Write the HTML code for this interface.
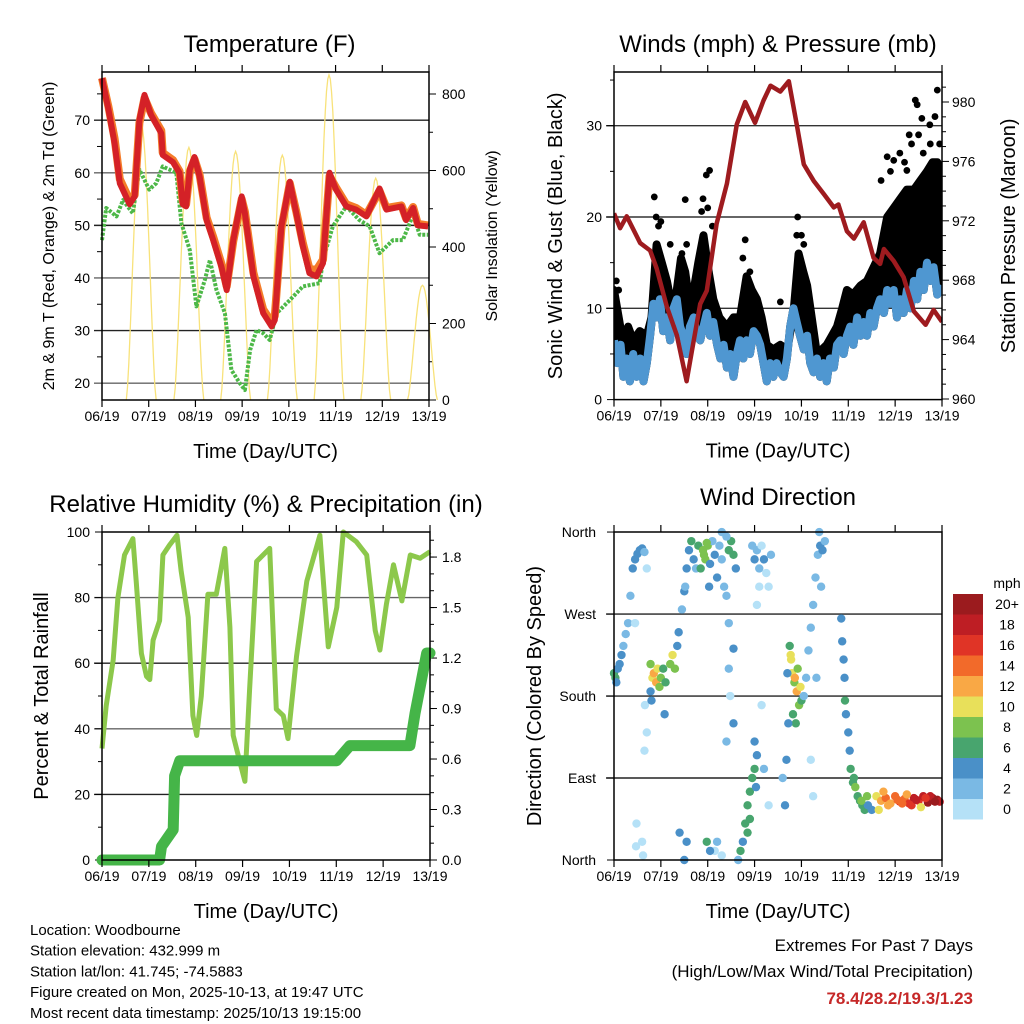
<!DOCTYPE html>
<html><head><meta charset="utf-8"><style>
html,body{margin:0;padding:0;background:#fff;}
svg{display:block;font-family:"Liberation Sans",Arial,sans-serif;}
</style></head><body>
<svg id="c" width="1024" height="1024" viewBox="0 0 1024 1024" xmlns="http://www.w3.org/2000/svg"></svg>
<script>
// ---------- DATA ----------
const dayLabels = ["06/19","07/19","08/19","09/19","10/19","11/19","12/19","13/19"];
const tempT = [0,0.14,0.27,0.38,0.59,0.7,0.8,0.91,1.05,1.27,1.3,1.52,1.66,1.73,1.8,1.88,1.98,2.09,2.24,2.38,2.56,2.67,2.81,2.99,3.06,3.24,3.45,3.63,3.7,3.84,4.02,4.16,4.3,4.44,4.59,4.73,4.87,5.01,5.23,5.44,5.66,5.94,6.09,6.41,6.51,6.66,6.76,6.98];
const temp2m = [78,72,65.6,58,54,55.5,70,74.8,71,67.5,63.4,62,60,54,53.6,60.6,63,59.3,51,47.2,42,37.7,47.2,55.5,52.3,40.3,33.3,30.8,32,49.8,58.3,52.3,46,40.9,40.3,42.8,60,56.8,53.6,53,51.7,57,53,53.6,51,53.3,50,49.8];
const temp9m = [78,72.5,66.5,58.8,54.8,55.8,69.5,74.2,71.3,68,63.8,62.4,60.3,54.5,54,60.2,62.6,59.6,51.5,47.8,42.6,38.4,47,55,52.6,41,34,31.6,32.8,49.4,58,52.6,46.6,41.8,41.5,43.5,59.4,57.2,54,53.3,52,56.6,53.3,53.8,51.3,53.5,50.3,50];
const dewT = [0,0.09,0.31,0.45,0.66,0.8,1.01,1.16,1.3,1.59,1.7,1.88,2.02,2.2,2.31,2.45,2.63,2.77,2.95,3.06,3.17,3.31,3.45,3.59,3.74,4.02,4.3,4.66,4.73,4.94,5.23,5.51,5.73,5.94,6.23,6.44,6.66,6.8,6.98];
const dewpt = [47.2,53.3,51.7,54.8,52.3,60.6,56.8,58,61.2,60,50.4,45.3,34.6,39.6,43.4,37.7,33.3,22.5,20,18.7,26.3,30.1,29.5,28.2,33.3,35.8,38.4,39,43.4,49.8,53.6,51,49.8,44.7,47.2,47.2,52,48.2,48.2];
const solarNoon = [0.84,1.86,2.86,3.86,4.86,5.86,6.86];
const solarPeak = [720,660,650,640,850,580,300];
const presT = [0,0.13,0.27,0.56,0.77,0.91,1.13,1.34,1.55,1.66,1.84,1.98,2.19,2.41,2.62,2.8,3.01,3.19,3.34,3.55,3.73,3.9,4.05,4.26,4.48,4.69,4.79,4.97,5.12,5.33,5.54,5.68,5.76,5.97,6.18,6.4,6.65,6.82,7.0];
const pressure = [972.5,971.5,972.3,970.5,970,968.8,966.2,964.3,961.2,963.2,966.4,967.3,971.8,974.5,978.5,980,978.6,980.1,981.1,980.7,981.4,978.5,975.8,974.7,973.8,972.9,973.1,971.3,970.8,971.9,969.5,969.1,970.1,969.3,968.2,965.9,965,966,965.2];
const windT = [0,0.07,0.14,0.2,0.27,0.34,0.41,0.48,0.56,0.63,0.7,0.77,0.84,0.91,0.98,1.05,1.12,1.2,1.27,1.34,1.41,1.48,1.55,1.62,1.7,1.77,1.84,1.91,1.98,2.05,2.12,2.2,2.27,2.34,2.41,2.48,2.55,2.62,2.69,2.76,2.83,2.9,2.98,3.05,3.12,3.19,3.26,3.33,3.4,3.47,3.55,3.62,3.69,3.76,3.83,3.9,3.97,4.05,4.12,4.19,4.26,4.33,4.4,4.47,4.54,4.61,4.69,4.76,4.83,4.9,4.97,5.04,5.11,5.19,5.26,5.33,5.4,5.47,5.54,5.61,5.68,5.76,5.83,5.9,5.97,6.04,6.11,6.18,6.25,6.33,6.4,6.47,6.54,6.61,6.68,6.75,6.82,6.9,7.0];
const windSpd = [6.5,4,6,2.5,4.5,2,5,2.5,4.5,2,4,7,10.5,9,11,7.5,9,6.5,10,11,8,7,5,8,9,7,6.5,8,9.5,7,8.5,6,4.5,6,3.5,5,2.5,5,6.5,4.5,6.5,5,7.5,7,6,4,2,4,2.5,4,3,2.5,4.5,8,10,8.5,7,5.5,7,4,3,4.5,2.5,4,2,4.5,3.5,6,6.5,5,7,8,6,9,7,8.5,7,9.5,8,10,11,9.5,12,10.5,12,9,11,9.5,12,10,13,11,14,12,15,13,14.5,11.5,12.5];
const gustT = [0,0.1,0.2,0.3,0.41,0.55,0.7,0.8,0.91,1.02,1.13,1.24,1.34,1.43,1.52,1.6,1.7,1.8,1.91,2.02,2.12,2.25,2.41,2.55,2.69,2.83,2.94,3.05,3.15,3.26,3.4,3.55,3.7,3.83,3.94,4.04,4.12,4.22,4.33,4.44,4.54,4.65,4.76,4.87,4.97,5.1,5.26,5.4,5.54,5.68,5.83,5.97,6.11,6.25,6.4,6.54,6.68,6.8,6.9,7.0];
const gustSpd = [12,9,6,8,6.5,7.5,7,9,17,15,13,10,12,15.5,14,11,12,15,18,14,11,9,8,9,9,13.5,12,11,9,6,5.5,6,5.5,9.5,16,14,12.5,9,5,5.5,6,7,8,10,12,11.5,12.5,13,14.5,16,20,21,22,23,23,24,25,26,26,25];
const gustPeakT = [0.86,1.52,1.87,1.97,2.04,2.8,3.55,3.92,5.83,6.43,6.47,6.57,6.74,6.9,6.75,6.25,5.97,0.95,1.2,2.1,4.0,6.1,6.6,6.3,0.9,1.0,1.45,1.55,1.9,2.0,2.75,2.9,3.9,4.05,5.7,5.9,6.2,6.35,6.5,6.85,6.95,0.05,0.1];
const gustPeak = [22.2,21.9,20.6,24.6,25.1,17.5,10.7,20,26.6,32.8,32.3,30.8,30.1,33.9,28,25.1,26.2,19,17,19,18,27,27,29,20,19.5,16,17,22,21,15.5,14,18,17,24,25,26,28,29,31,28,13,12];
const rhT = [0,0.09,0.24,0.34,0.48,0.66,0.73,0.84,0.95,1.02,1.09,1.23,1.3,1.44,1.6,1.69,1.84,1.94,2.02,2.12,2.26,2.44,2.62,2.73,2.8,2.94,3.05,3.15,3.3,3.58,3.72,3.87,3.97,4.15,4.37,4.65,4.83,5.01,5.15,5.43,5.65,5.83,5.93,6.07,6.22,6.4,6.58,6.79,7.0];
const rh = [34,47,61,80,93,98,85,63,56,55,67,73,93,96,99,88,74,44,38,50,81,81,95,71,38,30,24,52,91,95,46,44,37,62,85,99,65,77,100,97,93,70,64,78,90,79,93,92,94];
const rainT = [0,1.23,1.27,1.52,1.55,1.66,5.01,5.29,6.57,6.68,6.79,6.93,7.0];
const rain = [0,0,0.08,0.18,0.5,0.59,0.59,0.68,0.68,0.87,1.03,1.23,1.23];
const dirT = [0,0.03,0.05,0.08,0.12,0.16,0.2,0.25,0.3,0.35,0.4,0.45,0.5,0.55,0.6,0.65,0.7,0.45,0.66,0.7,0.65,0.48,0.6,0.62,0.47,
0.78,0.82,0.85,0.9,0.93,0.97,1.0,1.05,1.1,0.8,0.78,1.08,1.2,1.25,1.3,1.35,1.38,1.45,1.5,1.55,1.52,
1.6,1.65,1.7,1.75,1.8,1.9,1.95,2.0,1.85,2.05,2.1,2.15,2.2,2.25,2.3,2.35,2.4,2.45,2.5,2.55,2.6,2.3,2.4,2.03,1.92,1.98,
2.48,2.45,2.55,2.45,2.4,2.55,2.95,3.0,3.05,3.1,3.15,3.2,3.25,3.3,3.35,3.05,3.1,
2.75,2.8,2.85,2.9,2.95,3.0,3.03,3.05,2.7,2.65,2.85,2.9,3.0,2.15,2.2,2.3,1.5,1.55,1.4,1.98,2.05,3.15,3.2,3.3,
3.75,3.78,3.8,3.85,3.9,3.95,3.82,3.88,3.92,3.98,4.0,3.7,3.72,3.68,3.65,3.6,3.77,3.86,
4.05,4.1,4.15,4.2,4.25,4.3,4.35,4.4,4.45,4.5,4.38,4.2,4.25,4.32,4.42,
4.85,4.87,4.9,4.92,4.93,4.95,5.0,5.03,5.05,5.1,5.15,5.2,5.25,5.3,5.35,5.42,5.5,5.4,5.12,5.28,
5.6,5.7,5.8,5.9,6.0,6.1,6.2,6.3,6.4,6.5,6.6,6.7,6.8,6.9,6.95,5.65,5.75,6.25,6.55,6.05,6.35,6.75,6.85,6.15,5.85,6.45,6.65];
const dirDeg = [205,200,195,210,215,225,235,248,260,290,320,330,336,340,342,338,320,260,170,140,120,40,20,5,15,
215,200,205,195,210,190,200,210,195,175,185,160,215,225,210,235,250,275,295,320,300,
340,350,330,320,345,340,330,345,320,325,350,335,310,345,330,300,290,340,350,335,320,360,355,300,335,348,
180,260,232,210,130,150,345,330,340,320,345,330,315,300,335,280,300,
20,40,60,75,90,100,80,115,10,0,30,45,130,10,20,5,0,20,30,20,10,170,100,60,
235,220,205,195,185,170,160,150,210,190,175,205,150,110,60,90,225,200,
180,200,230,255,280,310,335,345,340,350,360,110,70,200,300,
265,240,220,200,175,160,140,120,100,85,80,70,65,60,55,60,55,70,90,65,
70,65,68,62,70,64,67,62,68,65,70,63,68,66,64,55,75,72,58,66,60,70,64,62,60,66,68];
const dirSpd = [6,7,5,4,4,4,3,3,3,3,4,4,4,4,4,3,1,1,1,1,1,1,0,0,0,
8,11,12,13,11,9,8,7,6,4,4,4,8,10,9,5,4,3,4,4,2,
4,6,4,3,7,8,8,8,6,4,3,4,4,3,2,2,2,6,7,6,4,2,2,4,8,8,
1,2,4,2,2,4,2,4,2,2,1,4,1,1,2,1,1,
5,6,7,6,6,7,4,4,6,2,6,7,4,1,2,1,4,5,4,6,5,1,2,1,
7,10,10,9,12,8,7,6,9,10,6,4,4,4,4,2,11,13,
2,2,2,2,2,2,3,4,4,3,2,1,1,2,2,
4,4,4,5,6,4,4,5,6,7,8,7,6,7,6,5,4,9,6,8,
11,12,14,13,15,16,14,17,18,16,19,20,21,20,19,10,12,13,10,15,17,19,20,14,13,18,16];
const cbColors = ["#b5e1f7","#7ab9e4","#4a90c8","#48a56e","#7cc24f","#e8e05a","#f9a845","#f26a2a","#e03426","#be1e24","#9b1b1e"];
const cbLabels = ["0","2","4","6","8","10","12","14","16","18","20+"];

// ---------- helpers ----------
const svg = document.getElementById('c');
const NS = "http://www.w3.org/2000/svg";
function el(tag, attrs, parent){ const e=document.createElementNS(NS,tag); for(const k in attrs) e.setAttribute(k,attrs[k]); (parent||svg).appendChild(e); return e; }
function txt(s, x, y, size, anchor, parent, extra){ const t=el('text',Object.assign({x:x,y:y,'font-size':size,'text-anchor':anchor||'middle',fill:'#000'},extra||{}),parent); t.textContent=s; return t; }
function poly(xs, ys){ return xs.map((x,i)=>(i?'L':'M')+x.toFixed(1)+','+ys[i].toFixed(1)).join(''); }

function frame(g, x0,x1,y0,y1, name){
  const r = el('rect',{x:x0,y:y0,width:x1-x0,height:y1-y0,fill:'none',stroke:'#000','stroke-width':1.5},g);
  
  
  for(let i=0;i<8;i++){
    const x = x0 + i*(x1-x0)/7;
    el('line',{x1:x,x2:x,y1:y1,y2:y1+7,stroke:'#000','stroke-width':1.2},g);
    el('line',{x1:x,x2:x,y1:y0,y2:y0-7,stroke:'#000','stroke-width':1.2},g);
    const t = txt(dayLabels[i], x, y1+21, 14, 'middle', g);
    
    
  }
  const xt = txt('Time (Day/UTC)', (x0+x1)/2, y1+58, 20, 'middle', g);
  
  
}
function grid(g, x0,x1,y, color){ el('line',{x1:x0-8,x2:x1,y1:y,y2:y,stroke:color||'#222','stroke-width':1.4},g); }

// ================= PANEL 1 =================
(function(){
  const g = el('g',{});
  
  
  const x0=102,x1=429,y0=72,y1=400;
  const X = d=>x0+d*(x1-x0)/7;
  const YT = v=>y1-(v-16.8)*5.26;
  const YS = w=>y1-w*0.3825;
  [20,30,40,50,60,70].forEach((v,i)=>{ grid(g,x0,x1,YT(v), i%2?'#222':'#666');
    const t=txt(String(v), x0-12, YT(v)+5, 14, 'end', g);   });
  for(let v=25; v<80; v+=10) el('line',{x1:x0-5,x2:x0,y1:YT(v),y2:YT(v),stroke:'#000'},g);
  [0,200,400,600,800].forEach(w=>{ el('line',{x1:x1,x2:x1+7,y1:YS(w),y2:YS(w),stroke:'#000'},g);
    const t=txt(String(w), x1+13, YS(w)+5, 14, 'start', g);   });
  for(let w=100; w<900; w+=200) el('line',{x1:x1,x2:x1+4,y1:YS(w),y2:YS(w),stroke:'#000'},g);
  solarNoon.forEach((n,i)=>{
    const xs=[],ys=[];
    for(let k=0;k<=24;k++){ const f=k/24; const d=n-0.32+0.64*f; xs.push(X(d)); ys.push(YS(solarPeak[i]*Math.pow(Math.sin(Math.PI*f),1.5))); }
    const p=el('path',{d:poly(xs,ys),fill:'none',stroke:'#f8e27a','stroke-width':1.3},g);
    
    
  });
  const dp=el('path',{d:poly(dewT.map(X),dewpt.map(YT)),fill:'none',stroke:'#4db848','stroke-width':4,'stroke-dasharray':'3 1.5','stroke-linejoin':'round'},g);
  
  
  const o=el('path',{d:poly(tempT.map(X),temp9m.map(YT)),fill:'none',stroke:'#f47c2a','stroke-width':8,'stroke-linejoin':'round'},g);
  
  
  const r=el('path',{d:poly(tempT.map(X),temp2m.map(YT)),fill:'none',stroke:'#d42127','stroke-width':6,'stroke-linejoin':'round'},g);
  
  
  frame(g,x0,x1,y0,y1,'temperature');
  const t=txt('Temperature (F)', (x0+x1)/2+4, 52, 24, 'middle', g);  
  const a=txt('2m & 9m T (Red, Orange) & 2m Td (Green)', 0,0,16,'middle',g,{transform:`translate(54,${(y0+y1)/2}) rotate(-90)`});  
  const b=txt('Solar Insolation (Yellow)', 0,0,16,'middle',g,{transform:`translate(497,${(y0+y1)/2}) rotate(-90)`});  
})();

// ================= PANEL 2 =================
(function(){
  const g = el('g',{});
  
  
  const x0=614,x1=942,y0=72,y1=399.6;
  const X = d=>x0+d*(x1-x0)/7;
  const YV = v=>y1-v*9.13;
  const YP = p=>399-(p-960)*14.85;
  [10,20,30].forEach(v=>grid(g,x0,x1,YV(v),'#333'));
  [0,10,20,30].forEach(v=>{ el('line',{x1:x0-7,x2:x0,y1:YV(v),y2:YV(v),stroke:'#000'},g);
    const t=txt(String(v), x0-12, YV(v)+5, 14, 'end', g);   });
  for(let v=5; v<36; v+=10) el('line',{x1:x0-4,x2:x0,y1:YV(v),y2:YV(v),stroke:'#000'},g);
  [960,964,968,972,976,980].forEach(p=>{ el('line',{x1:x1,x2:x1+7,y1:YP(p),y2:YP(p),stroke:'#000'},g);
    const t=txt(String(p), x1+10, YP(p)+5, 14, 'start', g);   });
  for(let p=961; p<982; p++) if(p%4) el('line',{x1:x1,x2:x1+4,y1:YP(p),y2:YP(p),stroke:'#000'},g);
  const clip = el('clipPath',{id:'wclip'},g); el('rect',{x:x0,y:y0,width:x1-x0,height:y1-y0},clip);
  const cg = el('g',{'clip-path':'url(#wclip)'},g);
  // gust cloud: area from sustained wind up to gust envelope
  const area = poly(gustT.map(X),gustSpd.map(YV)) + poly(windT.slice().reverse().map(X),windSpd.slice().reverse().map(YV)).replace('M','L')+'Z';
  const ga=el('path',{d:area,fill:'#000',stroke:'#000','stroke-width':8,'stroke-linejoin':'round'},cg);
  
  
  gustPeakT.forEach((d,i)=>{ const c=el('circle',{cx:X(d),cy:YV(gustPeak[i]),r:3.4,fill:'#000'},cg);
    
     });
  const wl=el('path',{d:poly(windT.map(X),windSpd.map(YV)),fill:'none',stroke:'#4f97d1','stroke-width':8,'stroke-linejoin':'round'},cg);
  
  
  const pl=el('path',{d:poly(presT.map(X),pressure.map(YP)),fill:'none',stroke:'#9e1b1f','stroke-width':4.5,'stroke-linejoin':'round'},cg);
  
  
  frame(g,x0,x1,y0,y1,'winds');
  const t=txt('Winds (mph) & Pressure (mb)', (x0+x1)/2, 52, 24, 'middle', g);  
  const a=txt('Sonic Wind & Gust (Blue, Black)', 0,0,20,'middle',g,{transform:`translate(562,${(y0+y1)/2}) rotate(-90)`});  
  const b=txt('Station Pressure (Maroon)', 0,0,20,'middle',g,{transform:`translate(1015,${(y0+y1)/2}) rotate(-90)`});  
})();

// ================= PANEL 3 =================
(function(){
  const g = el('g',{});
  
  
  const x0=102,x1=430,y0=532,y1=860;
  const X = d=>x0+d*(x1-x0)/7;
  const YR = v=>y1-v*3.28;
  const YP = p=>y1-p*168.3;
  [20,40,60,80].forEach((v,i)=>grid(g,x0,x1,YR(v), i%2?'#666':'#222'));
  [0,20,40,60,80,100].forEach(v=>{ el('line',{x1:x0-7,x2:x0,y1:YR(v),y2:YR(v),stroke:'#000'},g);
    const t=txt(String(v), x0-12, YR(v)+5, 14, 'end', g);   });
  for(let v=10; v<100; v+=20) el('line',{x1:x0-4,x2:x0,y1:YR(v),y2:YR(v),stroke:'#000'},g);
  ["0.0","0.3","0.6","0.9","1.2","1.5","1.8"].forEach((s,i)=>{ const p=i*0.3; el('line',{x1:x1,x2:x1+7,y1:YP(p),y2:YP(p),stroke:'#000'},g);
    const t=txt(s, x1+12, YP(p)+5, 14, 'start', g);   });
  for(let p=0.1; p<1.95; p+=0.1) el('line',{x1:x1,x2:x1+4,y1:YP(p),y2:YP(p),stroke:'#000'},g);
  const rl=el('path',{d:poly(rhT.map(X),rh.map(YR)),fill:'none',stroke:'#8cc84b','stroke-width':5,'stroke-linejoin':'round'},g);
  
  
  const pl=el('path',{d:poly(rainT.map(X),rain.map(YP)),fill:'none',stroke:'#45b548','stroke-width':11,'stroke-linejoin':'round','stroke-linecap':'round'},g);
  
  
  frame(g,x0,x1,y0,y1,'humidity');
  const t=txt('Relative Humidity (%) & Precipitation (in)', (x0+x1)/2, 512, 24, 'middle', g);  
  const a=txt('Percent & Total Rainfall', 0,0,20,'middle',g,{transform:`translate(48,${(y0+y1)/2}) rotate(-90)`});  
})();

// ================= PANEL 4 =================
(function(){
  const g = el('g',{});
  
  
  const x0=614,x1=942,y0=532,y1=860;
  const X = d=>x0+d*(x1-x0)/7;
  const YD = v=>y1-v*0.911;
  [90,180,270].forEach(v=>grid(g,x0,x1,YD(v),'#222'));
  ["North","East","South","West","North"].forEach((s,i)=>{ el('line',{x1:x0-7,x2:x0,y1:YD(i*90),y2:YD(i*90),stroke:'#000'},g);
    const t=txt(s, x0-18, YD(i*90)+5, 14, 'end', g);   });
  dirT.forEach((d,i)=>{ const ci=Math.min(10,Math.floor(dirSpd[i]/2));
    const c=el('circle',{cx:X(d),cy:YD(dirDeg[i]),r:4.2,fill:cbColors[ci]},g);
    
     });
  frame(g,x0,x1,y0,y1,'wind-direction');
  const t=txt('Wind Direction', (x0+x1)/2, 505, 24, 'middle', g);  
  const a=txt('Direction (Colored By Speed)', 0,0,20,'middle',g,{transform:`translate(541,${(y0+y1)/2}) rotate(-90)`});  
  const cb = el('g',{},g);
  
  
  const mt=txt('mph', 1007, 588, 14, 'middle', cb);  
  cbColors.forEach((c,i)=>{ const y=594+(10-i)*20.5;
    const r=el('rect',{x:953,y:y,width:30,height:20.5,fill:c},cb);
    
    
    const t=txt(cbLabels[i], 1007, y+15, 14, 'middle', cb);
    
     });
})();

// ================= Footer =================
(function(){
  const g = el('g',{});
  
  
  ["Location: Woodbourne","Station elevation: 432.999 m","Station lat/lon: 41.745; -74.5883","Figure created on Mon, 2025-10-13, at 19:47 UTC","Most recent data timestamp: 2025/10/13 19:15:00"].forEach((s,i)=>{
    const t=txt(s, 30, 935+i*20.7, 15, 'start', g);   });
  const e = el('g',{});
  
  
  const a=txt('Extremes For Past 7 Days', 973, 951, 17, 'end', e);  
  const b=txt('(High/Low/Max Wind/Total Precipitation)', 973, 977, 17, 'end', e);  
  const c=txt('78.4/28.2/19.3/1.23', 973, 1004, 17, 'end', e, {fill:'#c62828','font-weight':'bold'});  
})();
</script>
</body></html>
